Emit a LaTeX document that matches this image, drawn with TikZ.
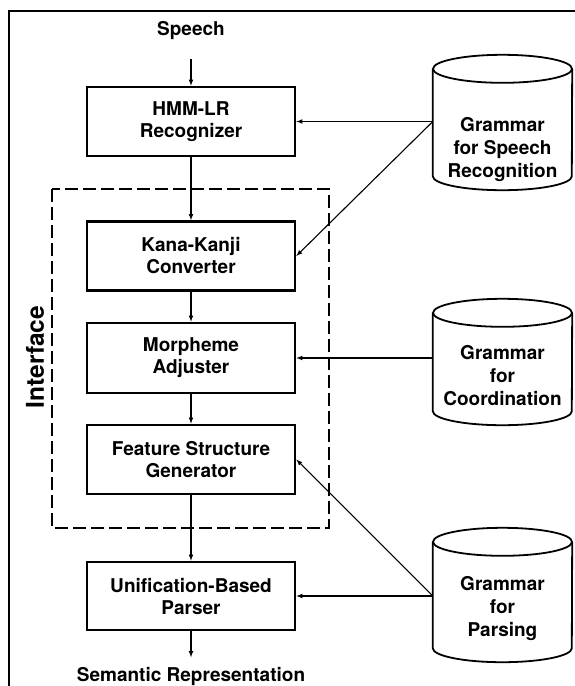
\documentclass[tikz,border=0pt]{standalone}
\usepackage{fontspec}
\setmainfont{TeX Gyre Heros}

\tikzset{
  stage/.style={draw, line width=2.6pt, minimum width=208pt, minimum height=69pt,
    inner sep=0pt, align=center, font=\bfseries\fontsize{19}{22}\selectfont},
  grammar/.style={minimum width=139pt, inner sep=0pt, align=center,
    font=\bfseries\fontsize{19}{23}\selectfont},
  drumline/.style={line width=1.8pt},
  io/.style={font=\bfseries\fontsize{19}{22}\selectfont},
  flow/.style={line width=1.1pt, ->, >=latex},
}
% drum outline round a grammar node; #1 = rise of the lid above the node
\newcommand{\drum}[2][14]{%
  \draw [drumline] ([yshift=#1pt]#2.north) ellipse (69.5 and 14);
  \draw [drumline] ([yshift=#1pt]#2.north west) -- ([yshift=14pt]#2.south west)
    arc (180:0:69.5 and 14) -- ([yshift=#1pt]#2.north east);
}

\begin{document}
\begin{tikzpicture}[x=1pt, y=-1pt]
\useasboundingbox (0,0) rectangle (575,686);
% frame
\draw [line width=1.4pt] (9,686) -- (9,11) -- (575,11);
% interface block
\draw [line width=1.3pt, dash pattern=on 13pt off 5pt] (52,189) rectangle (329,528);
\node [rotate=90, font=\bfseries\fontsize{24.5}{28}\selectfont] (iface) at (35,357) {Interface};

% processing stages
\node [io] (speech) at (191,31) {Speech};
\node [stage] (hmm) at (191,121.5) {HMM-LR\\Recognizer};
\node [stage] (kana) at (191,256) {Kana-Kanji\\Converter};
\node [stage, minimum height=70pt] (morph) at (191,358) {Morpheme\\Adjuster};
\node [stage] (feat) at (191,459.5) {Feature Structure\\Generator};
\node [stage, minimum height=68pt] (pars) at (191,596) {Unification-Based\\Parser};
\node [io] (sem) at (191,676) {Semantic Representation};

% grammars
\node [grammar, minimum height=80pt] (grsr) at (502.5,150) {Grammar\\for Speech\\Recognition};
\node [grammar, minimum height=98pt] (grco) at (502.5,376) {Grammar\\for\\Coordination};
\node [grammar, minimum height=106pt] (grpa) at (502.5,609) {Grammar\\for\\Parsing};
\drum[41]{grsr}
\drum{grco}
\drum{grpa}

% data flow
\draw [flow, shorten <=15pt] (speech) -- (hmm);
\draw [flow] (hmm) -- (kana);
\draw [flow] (kana) -- (morph);
\draw [flow] (morph) -- (feat);
\draw [flow] (feat) -- (pars);
\draw [flow, shorten >=6pt] (pars) -- (sem);

% grammar lookups
\draw [flow] (hmm.east -| grsr.west) -- (hmm.east);
\draw [flow] (hmm.east -| grsr.west) -- (kana.east);
\draw [flow] (morph.east -| grco.west) -- (morph.east);
\draw [flow] (pars.east -| grpa.west) -- (pars.east);
\draw [flow] (pars.east -| grpa.west) -- (feat.east);
\end{tikzpicture}
\end{document}
